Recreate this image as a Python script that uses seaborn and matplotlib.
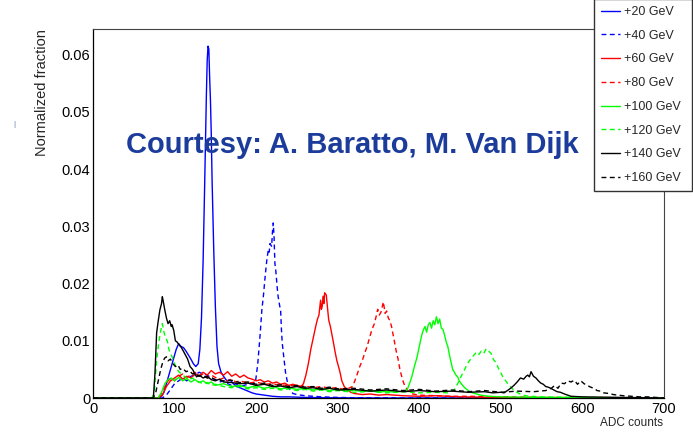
import matplotlib
matplotlib.use("Agg")
import matplotlib.pyplot as plt
from matplotlib.lines import Line2D
from matplotlib.ticker import MultipleLocator
import seaborn as sns
import pandas as pd

# ---------------- data ----------------
labels = ["+20 GeV", "+40 GeV", "+60 GeV", "+80 GeV",
          "+100 GeV", "+120 GeV", "+140 GeV", "+160 GeV"]
colors = ["#0000ff", "#0000ff", "#ff0000", "#ff0000",
          "#00ff00", "#00ff00", "#000000", "#000000"]
dashed = [False, True, False, True, False, True, False, True]

e20_x = [0, 80, 84, 87, 90, 93, 96, 99, 102, 105, 108, 111, 114, 117, 120, 123, 126, 129, 131,
         133, 135, 137, 139, 140, 141, 142, 143, 144, 145, 146, 148, 150, 152, 154, 157, 160,
         164, 168, 172, 176, 180, 185, 190, 195, 200, 210, 220, 230, 240, 260, 280, 300, 350, 700]
e20_y = [0, 0, 0.0003, 0.001, 0.0025, 0.004, 0.0055, 0.007, 0.0085, 0.0095, 0.009, 0.0088,
         0.0082, 0.0075, 0.0068, 0.006, 0.0055, 0.006, 0.0085, 0.014, 0.024, 0.038, 0.053, 0.059,
         0.0615, 0.061, 0.056, 0.052, 0.046, 0.038, 0.026, 0.016, 0.009, 0.006, 0.0045, 0.0038,
         0.003, 0.0032, 0.0025, 0.002, 0.0018, 0.0015, 0.0012, 0.0009, 0.0007, 0.0005, 0.0003,
         0.0002, 0.0002, 0.0001, 0.00005, 0.00003, 0, 0]

e40_x = [0, 85, 90, 95, 100, 105, 110, 115, 120, 125, 130, 135, 140, 145, 150, 155, 160, 165,
         170, 175, 180, 185, 190, 195, 199, 202, 205, 207, 209, 211, 213, 215, 216, 217, 219, 220,
         221, 222, 223, 224, 226, 227, 229, 230, 231, 232, 234, 236, 238, 241, 245, 250, 260, 270,
         280, 300, 320, 350, 400, 700]
e40_y = [0, 0, 0.0005, 0.0015, 0.0025, 0.003, 0.0035, 0.003, 0.0038, 0.004, 0.0045, 0.0042,
         0.004, 0.0035, 0.0032, 0.0028, 0.003, 0.0025, 0.0022, 0.0025, 0.002, 0.0022, 0.0024,
         0.0026, 0.0026, 0.006, 0.0113, 0.0154, 0.018, 0.0212, 0.024, 0.026, 0.0255, 0.027,
         0.0265, 0.029, 0.0306, 0.028, 0.0235, 0.0224, 0.019, 0.0177, 0.016, 0.0154, 0.012,
         0.0096, 0.007, 0.0045, 0.003, 0.0015, 0.0008, 0.0006, 0.0004, 0.0003, 0.0002, 0.0001,
         0.00005, 0.00003, 0, 0]

e60_x = [0, 80, 85, 90, 95, 100, 105, 110, 115, 120, 125, 130, 135, 140, 145, 150, 155, 160,
         165, 170, 175, 180, 185, 190, 195, 200, 205, 210, 215, 220, 225, 230, 235, 240, 245, 250,
         255, 258, 261, 264, 267, 270, 273, 275, 277, 279, 280, 281, 282, 283, 284, 286, 287, 288,
         289, 291, 293, 295, 297, 299, 301, 303, 305, 308, 312, 316, 320, 330, 340, 350, 360, 380,
         400, 420, 450, 500, 550, 700]
e60_y = [0, 0, 0.0005, 0.002, 0.003, 0.0035, 0.004, 0.0033, 0.0038, 0.0035, 0.0042, 0.0038,
         0.0045, 0.004, 0.0048, 0.0042, 0.0045, 0.004, 0.0046, 0.0038, 0.0042, 0.0036, 0.004,
         0.0035, 0.0033, 0.003, 0.0032, 0.0028, 0.003, 0.0026, 0.0028, 0.0024, 0.0026, 0.0022,
         0.0024, 0.0022, 0.002, 0.0025, 0.004, 0.006, 0.0085, 0.0105, 0.0125, 0.0137, 0.0145,
         0.0171, 0.0155, 0.016, 0.0178, 0.0165, 0.0184, 0.018, 0.0165, 0.015, 0.0136, 0.0125,
         0.011, 0.0095, 0.0079, 0.0065, 0.0055, 0.0044, 0.003, 0.002, 0.0014, 0.001, 0.0008,
         0.0006, 0.0007, 0.0005, 0.0006, 0.0004, 0.0003, 0.0004, 0.0002, 0.0001, 0.00005, 0]

e80_x = [0, 80, 84, 88, 92, 96, 100, 105, 110, 115, 120, 125, 130, 135, 140, 145, 150, 155,
         160, 165, 170, 175, 180, 190, 200, 210, 220, 230, 240, 250, 260, 270, 280, 290, 300, 305,
         310, 315, 318, 321, 324, 327, 330, 333, 336, 339, 342, 345, 347, 349, 351, 353, 355, 356,
         358, 360, 362, 364, 366, 368, 370, 372, 374, 376, 378, 380, 382, 385, 388, 392, 400, 420,
         440, 460, 500, 550, 700]
e80_y = [0, 0, 0.0008, 0.002, 0.003, 0.0035, 0.003, 0.0038, 0.0042, 0.0036, 0.004, 0.0045,
         0.0038, 0.0042, 0.0035, 0.004, 0.0036, 0.0032, 0.0035, 0.003, 0.0033, 0.0028, 0.003,
         0.0026, 0.0028, 0.0024, 0.0025, 0.0022, 0.0023, 0.002, 0.0021, 0.0018, 0.002, 0.0017,
         0.0018, 0.0016, 0.0015, 0.0018, 0.002, 0.003, 0.0042, 0.0055, 0.0065, 0.0078, 0.009,
         0.0105, 0.012, 0.013, 0.0142, 0.0155, 0.0145, 0.015, 0.0162, 0.0168, 0.0148, 0.0152,
         0.014, 0.0135, 0.0125, 0.011, 0.0095, 0.008, 0.0068, 0.0052, 0.004, 0.003, 0.0022,
         0.0015, 0.001, 0.0007, 0.0005, 0.0004, 0.0003, 0.0003, 0.0002, 0.0001, 0]

e100_x = [0, 80, 84, 88, 92, 96, 100, 105, 110, 115, 120, 125, 130, 135, 140, 145, 150, 160,
          170, 180, 190, 200, 210, 220, 230, 240, 250, 260, 270, 280, 290, 300, 310, 320, 330,
          340, 350, 360, 370, 380, 385, 388, 391, 394, 397, 400, 403, 405, 407, 409, 411, 413,
          415, 417, 419, 421, 423, 425, 427, 429, 431, 433, 435, 437, 439, 441, 443, 445, 447,
          449, 452, 455, 459, 463, 468, 475, 485, 500, 550, 700]
e100_y = [0, 0, 0.001, 0.0025, 0.0032, 0.0035, 0.003, 0.0036, 0.003, 0.0034, 0.0028, 0.0032,
          0.0027, 0.003, 0.0025, 0.0028, 0.0022, 0.0025, 0.002, 0.0022, 0.0018, 0.0021, 0.0017,
          0.002, 0.0016, 0.0018, 0.0015, 0.0017, 0.0014, 0.0016, 0.0013, 0.0015, 0.0012, 0.0014,
          0.0011, 0.0013, 0.001, 0.0012, 0.001, 0.0012, 0.0014, 0.0025, 0.0038, 0.0055, 0.007,
          0.009, 0.011, 0.0119, 0.0125, 0.0115, 0.0128, 0.0132, 0.0122, 0.0135, 0.0128, 0.0142,
          0.013, 0.0138, 0.0122, 0.012, 0.011, 0.0098, 0.009, 0.0075, 0.0062, 0.005, 0.0045,
          0.004, 0.0037, 0.003, 0.0024, 0.0019, 0.0014, 0.001, 0.0008, 0.0005, 0.0003, 0.0002,
          0.0001, 0]

e120_x = [0, 72, 75, 78, 80, 82, 84, 85, 87, 89, 91, 93, 95, 97, 100, 103, 106, 110, 114, 118,
          122, 126, 130, 135, 140, 145, 150, 160, 170, 180, 190, 200, 210, 220, 230, 240, 250,
          260, 270, 280, 290, 300, 320, 340, 360, 380, 400, 420, 435, 440, 443, 447, 451, 455,
          459, 463, 467, 470, 473, 476, 479, 482, 485, 488, 491, 494, 497, 500, 503, 506, 509,
          513, 517, 521, 526, 535, 550, 600, 700]
e120_y = [0, 0, 0.0008, 0.0066, 0.009, 0.011, 0.0125, 0.013, 0.0115, 0.0105, 0.01, 0.0085,
          0.0078, 0.0072, 0.006, 0.005, 0.0045, 0.004, 0.0036, 0.0032, 0.0035, 0.003, 0.0028,
          0.0025, 0.0027, 0.0022, 0.0024, 0.002, 0.0018, 0.002, 0.0016, 0.0018, 0.0015, 0.0017,
          0.0014, 0.0016, 0.0013, 0.0015, 0.0012, 0.0014, 0.0011, 0.0013, 0.001, 0.0012, 0.0009,
          0.0011, 0.0009, 0.001, 0.0009, 0.0012, 0.0015, 0.0025, 0.0037, 0.0048, 0.006, 0.0068,
          0.0075, 0.008, 0.0076, 0.0082, 0.0078, 0.0086, 0.0082, 0.0078, 0.0067, 0.0062, 0.0052,
          0.0044, 0.0035, 0.003, 0.0024, 0.0018, 0.0012, 0.0009, 0.0005, 0.0003, 0.0002, 0.0001, 0]

e140_x = [0, 74, 76, 78, 80, 82, 84, 85, 86, 88, 90, 92, 94, 96, 97, 99, 101, 103, 104, 106,
          108, 110, 113, 116, 119, 122, 125, 127, 130, 135, 140, 145, 150, 155, 160, 170, 180,
          190, 200, 210, 220, 230, 240, 250, 260, 270, 280, 290, 300, 320, 340, 360, 380, 400,
          420, 440, 460, 480, 490, 500, 504, 508, 512, 516, 520, 524, 528, 531, 533, 535, 537,
          540, 543, 546, 549, 552, 555, 558, 561, 565, 569, 573, 578, 582, 586, 600, 650, 700]
e140_y = [0, 0, 0.0044, 0.0114, 0.0135, 0.0154, 0.0165, 0.0177, 0.017, 0.0154, 0.014, 0.013,
          0.0135, 0.0125, 0.0128, 0.0118, 0.01, 0.0098, 0.0096, 0.0092, 0.0089, 0.0084, 0.0076,
          0.0068, 0.0055, 0.005, 0.0042, 0.0037, 0.004, 0.0035, 0.0038, 0.0032, 0.003, 0.0033,
          0.0028, 0.0027, 0.0025, 0.0026, 0.0022, 0.0024, 0.002, 0.0021, 0.0018, 0.002, 0.0017,
          0.0018, 0.0015, 0.0017, 0.0014, 0.0015, 0.0012, 0.0014, 0.0011, 0.0013, 0.0011, 0.0012,
          0.001, 0.0011, 0.0009, 0.001, 0.0009, 0.0013, 0.0017, 0.0022, 0.0028, 0.0035, 0.0033,
          0.0038, 0.004, 0.0037, 0.0046, 0.0038, 0.0035, 0.003, 0.0026, 0.0024, 0.002, 0.0019,
          0.0017, 0.0014, 0.0011, 0.001, 0.0007, 0.0005, 0.0003, 0.0002, 0.0001, 0]

e160_x = [0, 74, 77, 80, 83, 86, 88, 90, 92, 95, 98, 101, 104, 107, 110, 114, 118, 122, 126,
          130, 135, 140, 145, 150, 160, 170, 180, 190, 200, 210, 220, 230, 240, 250, 260, 270,
          280, 290, 300, 320, 340, 360, 380, 400, 420, 440, 460, 480, 500, 520, 540, 555, 562,
          566, 570, 574, 578, 582, 586, 590, 594, 598, 602, 606, 610, 614, 618, 622, 626, 632,
          638, 644, 650, 660, 670, 680, 690, 700]
e160_y = [0, 0, 0.001, 0.003, 0.005, 0.0065, 0.007, 0.0072, 0.0065, 0.0068, 0.006, 0.0055,
          0.0058, 0.005, 0.0052, 0.0046, 0.0048, 0.0042, 0.0044, 0.0038, 0.004, 0.0035, 0.0036,
          0.0032, 0.003, 0.0031, 0.0027, 0.0028, 0.0024, 0.0026, 0.0022, 0.0023, 0.002, 0.0022,
          0.0019, 0.002, 0.0017, 0.0019, 0.0016, 0.0017, 0.0014, 0.0016, 0.0013, 0.0015, 0.0012,
          0.0014, 0.0011, 0.0013, 0.001, 0.0012, 0.0011, 0.0013, 0.0017, 0.0022, 0.0017, 0.0026,
          0.0025, 0.003, 0.0028, 0.0031, 0.0024, 0.003, 0.0025, 0.0022, 0.0019, 0.0017, 0.0013,
          0.0012, 0.0009, 0.0008, 0.0006, 0.0005, 0.0004, 0.0003, 0.0002, 0.0002, 0.0001, 0]

series_x = [e20_x, e40_x, e60_x, e80_x, e100_x, e120_x, e140_x, e160_x]
series_y = [e20_y, e40_y, e60_y, e80_y, e100_y, e120_y, e140_y, e160_y]

x_ticks = [0, 100, 200, 300, 400, 500, 600, 700]
y_ticks = [0, 0.01, 0.02, 0.03, 0.04, 0.05, 0.06]
y_tick_labels = ["0", "0.01", "0.02", "0.03", "0.04", "0.05", "0.06"]

# ---------------- figure ----------------
sns.set_style("white")
plt.rcParams["font.family"] = ["Liberation Sans", "DejaVu Sans"]

W, H = 693, 432
fig = plt.figure(figsize=(W / 100, H / 100), dpi=100)
ax_l, ax_r, ax_t, ax_b = 93, 664, 29, 398
ax = fig.add_axes([ax_l / W, 1 - ax_b / H, (ax_r - ax_l) / W, (ax_b - ax_t) / H])

handles = []
for xs, ys, lab, col, dsh in zip(series_x, series_y, labels, colors, dashed):
    df = pd.DataFrame({"adc": xs, "frac": ys})
    sns.lineplot(data=df, x="adc", y="frac", ax=ax, color=col, lw=1.0,
                 estimator=None, sort=False, legend=False)
    ln = ax.lines[-1]
    if dsh:
        ln.set_dashes((3.5, 2.5))
    handles.append(Line2D([], [], color=col, lw=1.0,
                          dashes=(3.5, 2.5) if dsh else (None, None)))

ax.set_xlim(0, 700)
ax.set_ylim(0, 0.0645)
ax.set_xticks(x_ticks)
ax.set_xticklabels([str(v) for v in x_ticks])
ax.set_yticks(y_ticks)
ax.set_yticklabels(y_tick_labels)
ax.xaxis.set_minor_locator(MultipleLocator(20))
ax.yaxis.set_minor_locator(MultipleLocator(0.002))
ax.tick_params(axis="both", which="both", direction="in", colors="black",
               top=False, right=False, labelsize=10.5)
ax.tick_params(axis="y", which="major", length=12, width=0.8, pad=2)
ax.tick_params(axis="y", which="minor", length=6, width=0.8)
ax.tick_params(axis="x", which="major", length=9.5, width=0.8, pad=3)
ax.tick_params(axis="x", which="minor", length=4.8, width=0.8)
for side in ["left", "bottom"]:
    ax.spines[side].set_color("black")
    ax.spines[side].set_linewidth(0.9)
for side in ["top", "right"]:
    ax.spines[side].set_color("#444444")
    ax.spines[side].set_linewidth(0.8)
ax.set_xlabel("")
ax.set_ylabel("")

fig.text(42 / W, 1 - 29 / H, "Normalized fraction", rotation=90, ha="center", va="top",
         fontsize=10.5)
fig.text(663 / W, 1 - 423 / H, "ADC counts", ha="right", va="center", fontsize=8.5)
fig.text(14 / W, 1 - 125 / H, "|", ha="center", va="center", fontsize=6, color="#5b78b0")

fig.text(352 / W, 1 - 145 / H, "Courtesy: A. Baratto, M. Van Dijk", ha="center",
         va="center", fontsize=21, fontweight="bold", color="#1c3c9c")

leg = fig.legend(handles, labels, loc="upper left",
                 bbox_to_anchor=(594 / W, 1 - 3 / H, 98 / W, 0.01), mode="expand",
                 frameon=True, fancybox=False, fontsize=9, labelspacing=0.94,
                 handlelength=1.5, handletextpad=0.3, borderpad=0.58, borderaxespad=0)
leg.get_frame().set_edgecolor("#333333")
leg.get_frame().set_linewidth(1.0)
leg.get_frame().set_facecolor("white")
leg.get_frame().set_alpha(1)

fig.savefig("out.png", dpi=100)
